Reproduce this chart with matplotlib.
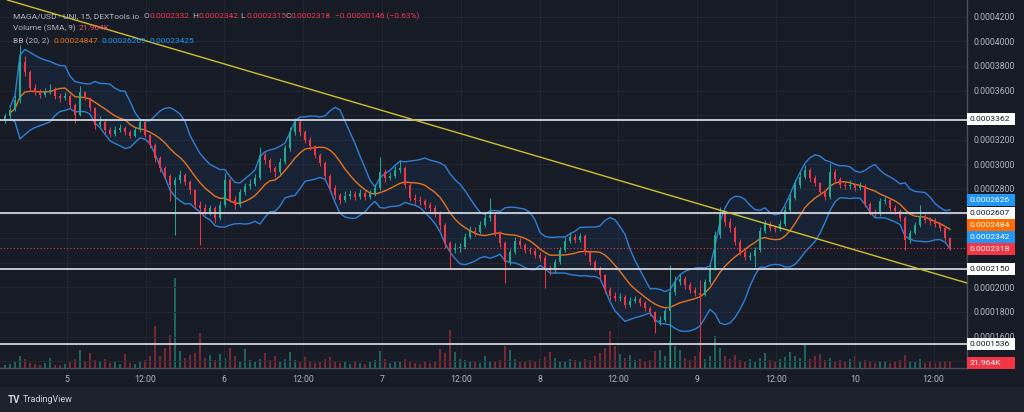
import matplotlib
matplotlib.use("Agg")
import matplotlib.pyplot as plt
from matplotlib.patches import Rectangle
import numpy as np
import pandas as pd

plt.rcParams['font.family'] = ['Roboto', 'DejaVu Sans']

# prices in units of 1e-7 USD, one bar per entry
first_open = 3360
closes = [3393, 3442, 3523, 3832, 3751, 3621, 3588, 3564, 3588, 3604,
          3556, 3539, 3556, 3482, 3401, 3588, 3539, 3458, 3320, 3344,
          3279, 3247, 3279, 3295, 3263, 3230, 3279, 3344, 3238, 3157,
          3051, 2970, 2905, 2832, 2873, 2913, 2856, 2791, 2669, 2645,
          2612, 2645, 2564, 2669, 2873, 2710, 2669, 2775, 2824, 2840,
          2889, 3076, 3035, 2970, 2938, 3019, 3133, 3263, 3344, 3263,
          3198, 3149, 3076, 3011, 2905, 2808, 2751, 2710, 2743, 2759,
          2734, 2767, 2734, 2759, 2808, 2938, 2889, 2905, 2954, 2970,
          2832, 2726, 2710, 2702, 2669, 2645, 2604, 2507, 2360, 2304,
          2320, 2330, 2409, 2458, 2450, 2507, 2564, 2588, 2442, 2360,
          2206, 2287, 2377, 2344, 2304, 2295, 2263, 2238, 2157, 2141,
          2206, 2304, 2377, 2409, 2385, 2417, 2287, 2206, 2157, 2100,
          1978, 1930, 1913, 1925, 1856, 1889, 1905, 1873, 1832, 1799,
          1718, 1734, 1808, 1962, 2043, 2068, 2019, 1978, 1954, 1940,
          2043, 2157, 2425, 2596, 2531, 2482, 2369, 2287, 2247, 2255,
          2304, 2458, 2515, 2482, 2474, 2515, 2629, 2726, 2832, 2897,
          2954, 2889, 2848, 2775, 2734, 2938, 2881, 2832, 2824, 2832,
          2808, 2824, 2678, 2612, 2596, 2702, 2710, 2645, 2621, 2564,
          2385, 2442, 2507, 2580, 2547, 2539, 2515, 2482, 2400, 2318]
highs = [3420, 3470, 3560, 3970, 3880, 3770, 3650, 3610, 3620, 3650,
         3630, 3580, 3590, 3570, 3500, 3637, 3600, 3550, 3470, 3390,
         3360, 3300, 3310, 3330, 3310, 3280, 3300, 3377, 3350, 3250,
         3170, 3070, 2990, 2920, 2900, 2950, 2930, 2870, 2800, 2700,
         2680, 2670, 2660, 2700, 2930, 2890, 2740, 2800, 2850, 2880,
         2920, 3141, 3100, 3050, 2990, 3050, 3160, 3300, 3377, 3360,
         3280, 3220, 3160, 3090, 3030, 2920, 2830, 2770, 2780, 2790,
         2780, 2800, 2780, 2790, 2840, 3060, 2960, 2940, 2990, 3035,
         2990, 2850, 2760, 2740, 2720, 2690, 2670, 2620, 2520, 2380,
         2360, 2360, 2440, 2500, 2490, 2540, 2600, 2726, 2610, 2460,
         2380, 2310, 2410, 2400, 2360, 2330, 2320, 2290, 2260, 2180,
         2230, 2330, 2410, 2450, 2430, 2440, 2430, 2300, 2220, 2170,
         2110, 2000, 1960, 1950, 1940, 1920, 1930, 1920, 1890, 1850,
         1810, 1770, 1830, 2182, 2090, 2110, 2090, 2040, 2000, 2060,
         2070, 2190, 2460, 2653, 2620, 2560, 2500, 2390, 2310, 2290,
         2330, 2490, 2550, 2540, 2510, 2550, 2660, 2760, 2870, 2940,
         2995, 2970, 2910, 2860, 2790, 3011, 2960, 2900, 2860, 2870,
         2850, 2860, 2840, 2690, 2640, 2730, 2740, 2730, 2670, 2640,
         2580, 2470, 2530, 2669, 2600, 2570, 2560, 2530, 2500, 2410]
lows = [3340, 3380, 3430, 3500, 3720, 3600, 3560, 3540, 3550, 3570,
        3530, 3510, 3520, 3460, 3336, 3390, 3520, 3430, 3290, 3300,
        3250, 3220, 3230, 3260, 3240, 3210, 3220, 3260, 3220, 3130,
        3020, 2940, 2880, 2700, 2425, 2850, 2830, 2760, 2640, 2344,
        2590, 2590, 2520, 2550, 2650, 2690, 2640, 2650, 2750, 2800,
        2820, 2870, 3000, 2940, 2900, 2920, 3000, 3110, 3240, 3230,
        3170, 3120, 3050, 2990, 2880, 2780, 2720, 2680, 2690, 2720,
        2710, 2720, 2710, 2720, 2740, 2790, 2860, 2870, 2890, 2930,
        2810, 2700, 2680, 2670, 2640, 2610, 2570, 2470, 2320, 2157,
        2280, 2290, 2310, 2390, 2420, 2430, 2490, 2540, 2420, 2330,
        2035, 2180, 2270, 2320, 2280, 2270, 2240, 2210, 1995, 2100,
        2120, 2190, 2290, 2360, 2360, 2370, 2260, 2180, 2130, 2070,
        1950, 1900, 1890, 1890, 1830, 1840, 1870, 1850, 1810, 1770,
        1629, 1690, 1720, 1344, 1940, 2020, 1990, 1950, 1930, 1344,
        1930, 2030, 2140, 2400, 2500, 2450, 2340, 2260, 2220, 2220,
        2165, 2290, 2440, 2460, 2450, 2460, 2500, 2610, 2710, 2810,
        2880, 2860, 2820, 2750, 2710, 2720, 2850, 2810, 2800, 2800,
        2780, 2790, 2650, 2590, 2570, 2580, 2680, 2620, 2600, 2540,
        2304, 2360, 2430, 2490, 2520, 2510, 2490, 2460, 2380, 2300]
# volume in thousands
volume_k = [9, 12, 18, 36, 27, 15, 12, 9, 15, 30,
            9, 9, 12, 18, 27, 54, 21, 45, 24, 18,
            27, 15, 18, 12, 42, 15, 12, 18, 24, 36,
            126, 36, 60, 99, 270, 51, 30, 39, 45, 105,
            30, 39, 24, 42, 30, 60, 36, 21, 57, 24,
            18, 27, 45, 24, 36, 18, 27, 48, 24, 18,
            33, 21, 15, 18, 27, 33, 18, 15, 21, 12,
            18, 15, 12, 18, 24, 51, 27, 15, 18, 21,
            27, 18, 15, 12, 18, 15, 21, 57, 45, 114,
            48, 27, 24, 18, 21, 15, 36, 21, 18, 24,
            66, 54, 27, 21, 18, 24, 21, 27, 33, 48,
            30, 21, 18, 27, 24, 21, 27, 24, 36, 45,
            60, 111, 66, 42, 30, 39, 24, 27, 21, 24,
            51, 54, 36, 81, 66, 54, 30, 24, 36, 48,
            27, 36, 96, 60, 36, 27, 39, 24, 18, 27,
            21, 30, 45, 24, 18, 27, 33, 48, 36, 30,
            72, 27, 36, 42, 24, 30, 18, 24, 21, 27,
            36, 18, 24, 21, 15, 18, 21, 15, 18, 24,
            39, 21, 18, 27, 15, 18, 15, 21, 18, 18]

level_lines = [3362, 2607, 2150, 1536]
last_price = 2318
trend_pts = [(5, 4282), (192.4, 2035)]
xtick_labels = ['5', '12:00', '6', '12:00', '7', '12:00', '8', '12:00',
                '9', '12:00', '10', '12:00']

# colours
BG = '#171b26'
GRID = '#232733'
TXT = '#b2b5be'
GREEN = '#22ab94'
RED = '#f23645'
BLUE = '#2f7fd6'
ORANGE = '#e8721c'

W, H = 1024, 412
def fx(px): return px / W
def fy(py): return 1 - py / H

SCALE = 1e-7
c = np.array(closes, float)
o = np.array([first_open] + closes[:-1], float)
hi = np.array(highs, float)
lo = np.array(lows, float)
vol = np.array(volume_k, float)
x = np.arange(len(c))
up = c >= o

# Bollinger bands (20 x 15m rescaled to the coarser bars used here)
bb_len = 10
s = pd.Series(c * SCALE)
basis = s.rolling(bb_len, min_periods=2).mean()
dev = s.rolling(bb_len, min_periods=2).std(ddof=0)
upper = basis + 2 * dev
lower = basis - 2 * dev

fig = plt.figure(figsize=(10.24, 4.12), dpi=100, facecolor=BG)
rect = [0, fy(368), fx(967), 368 / H]

# volume pane (behind)
axv = fig.add_axes(rect)
axv.set_facecolor(BG)
vcol = np.where(up, '#1f7d70', '#9c2c3a')
axv.bar(x, vol, width=0.45, color=vcol, alpha=0.75, linewidth=0)
axv.set_ylim(0, 1104)
axv.set_xlim(-1, 192.4)
axv.axis('off')

ax = fig.add_axes(rect)
ax.patch.set_visible(False)
ax.set_xlim(-1, 192.4)
ax.set_ylim(1344 * SCALE, 4336 * SCALE)

# bands
ax.fill_between(x, lower, upper, color='#2196f3', alpha=0.07, linewidth=0, zorder=1)
ax.plot(x, upper, color=BLUE, lw=1.0, zorder=2)
ax.plot(x, lower, color=BLUE, lw=1.0, zorder=2)
ax.plot(x, basis, color=ORANGE, lw=1.0, zorder=2)

# candles
ccol = np.where(up, GREEN, RED)
ax.vlines(x, lo * SCALE, hi * SCALE, colors=ccol, lw=0.7, zorder=3)
body = np.maximum(np.abs(c - o), 4)
ax.bar(x, body * SCALE, bottom=np.minimum(o, c) * SCALE, width=0.5,
       color=ccol, linewidth=0, zorder=4)

# horizontal levels, trendline, last price
for lv in level_lines:
    ax.axhline(lv * SCALE, color='#d1d4dc', lw=1.3, zorder=5)
ax.axline((trend_pts[0][0], trend_pts[0][1] * SCALE),
          (trend_pts[1][0], trend_pts[1][1] * SCALE),
          color='#cfc02c', lw=1.0, zorder=5)
ax.axhline(last_price * SCALE, color=RED, lw=0.8, ls=(0, (1, 2)), zorder=2.5)

# axes styling; labels hidden behind the scale boxes are left blank
yt = [k * 2e-5 for k in range(7, 22)]
hidden = {7, 11, 12, 13, 17}
ax.set_yticks(yt)
ax.set_yticklabels(['' if k in hidden else f'{k * 2e-5:.7f}' for k in range(7, 22)])
ax.yaxis.tick_right()
first_tick, half_day = 12.34, 15.76
ax.set_xticks([first_tick + k * half_day for k in range(len(xtick_labels))])
ax.set_xticklabels(xtick_labels)
ax.tick_params(axis='y', length=0, pad=5, labelsize=6.3, labelcolor=TXT)
ax.tick_params(axis='x', length=0, pad=5, labelsize=6.3, labelcolor=TXT)
ax.grid(True, color=GRID, lw=0.7)
ax.set_axisbelow(True)
for sp in ['top', 'left']:
    ax.spines[sp].set_visible(False)
for sp in ['right', 'bottom']:
    ax.spines[sp].set_color('#4b4f5a')
    ax.spines[sp].set_linewidth(1.0)

# bottom strip with logo
fig.add_artist(Rectangle((0, 0), 1, 25 / H, transform=fig.transFigure,
                         facecolor='#1e222d', edgecolor='none', zorder=0))
fig.text(fx(8), fy(400), 'TV', fontsize=7, fontweight='bold', color='#d1d4dc', va='center')
fig.text(fx(23), fy(400), 'TradingView', fontsize=6.5, color='#d1d4dc', va='center')

# price labels on the scale
boxes = [('0.0003362', 119, '#ffffff', '#131722'),
         ('0.0002626', 200, '#2196f3', '#ffffff'),
         ('0.0002607', 212.7, '#ffffff', '#131722'),
         ('0.0002484', 225.3, '#ff6d00', '#ffffff'),
         ('0.0002342', 236.7, '#2196f3', '#ffffff'),
         ('0.0002318', 248.7, RED, '#ffffff'),
         ('0.0002150', 269, '#ffffff', '#131722'),
         ('0.0001536', 344, '#ffffff', '#131722'),
         ('21.964K', 362.7, RED, '#ffffff')]
for txt, py, bg, fg in boxes:
    fig.add_artist(Rectangle((fx(967), fy(py + 6)), 48 / W, 12 / H,
                             transform=fig.transFigure, facecolor=bg,
                             edgecolor='none', zorder=10))
    fig.text(fx(970), fy(py), txt, fontsize=6.1, color=fg, va='center',
             ha='left', zorder=11)

# legend header
lab, num = 6.0, 6.0
fig.text(fx(13), fy(15.7), 'MAGA/USD · UNI, 15, DEXTools.io', fontsize=lab, color=TXT, va='center')
for px, k, v in [(144, 'O', '0.0002332'), (192.7, 'H', '0.0002342'),
                 (240.7, 'L', '0.0002315'), (285, 'C', '0.0002318')]:
    fig.text(fx(px), fy(15.7), k, fontsize=lab, color=TXT, va='center')
    fig.text(fx(px + 5.5), fy(15.7), v, fontsize=num, color=RED, va='center')
fig.text(fx(335), fy(15.7), '−0.00000146 (−0.63%)', fontsize=num, color=RED, va='center')
fig.text(fx(13), fy(28.3), 'Volume (SMA, 9)', fontsize=lab, color=TXT, va='center')
fig.text(fx(79), fy(28.3), '21.964K', fontsize=num, color='#f7525f', va='center')
fig.text(fx(13), fy(40.7), 'BB (20, 2)', fontsize=lab, color=TXT, va='center')
fig.text(fx(54), fy(40.7), '0.00024847', fontsize=num, color=ORANGE, va='center')
fig.text(fx(101.7), fy(40.7), '0.00026269', fontsize=num, color='#2196f3', va='center')
fig.text(fx(150), fy(40.7), '0.00023425', fontsize=num, color='#2196f3', va='center')

fig.savefig('out.png', dpi=100, facecolor=BG)
